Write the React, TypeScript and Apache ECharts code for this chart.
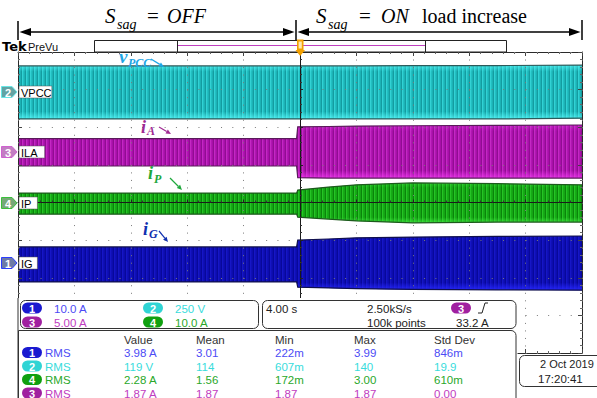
import React, { useEffect, useRef } from 'react';
import * as echarts from 'echarts';

// Horizontal position in divisions (trigger at 0), vertical in divisions (centre line at 0)
const TIME = [-5, -2.5, -0.06, -0.04, 0.5, 1, 2, 3.5, 5];

// Envelope (upper / lower) of each acquired trace
const VPCC_HI = [3.63, 3.63, 3.63, 3.63, 3.63, 3.63, 3.64, 3.64, 3.65];
const VPCC_LO = [2.22, 2.22, 2.22, 2.22, 2.22, 2.22, 2.22, 2.22, 2.24];
const ILA_HI = [1.7, 1.7, 1.7, 2.01, 2.02, 2.03, 2.04, 2.05, 2.06];
const ILA_LO = [0.97, 0.97, 0.97, 0.66, 0.65, 0.65, 0.65, 0.65, 0.65];
const IP_HI = [0.25, 0.25, 0.25, 0.33, 0.41, 0.47, 0.52, 0.5, 0.47];
const IP_LO = [-0.31, -0.31, -0.31, -0.39, -0.44, -0.49, -0.54, -0.52, -0.52];
const IG_HI = [-1.18, -1.18, -1.18, -1.0, -0.97, -0.94, -0.92, -0.9, -0.89];
const IG_LO = [-2.11, -2.11, -2.11, -2.25, -2.27, -2.29, -2.31, -2.32, -2.33];

// Channel readouts
const CHANNEL_NAMES = ['VPCC', 'ILA', 'IP', 'IG'];
const CHANNEL_NUMS = [2, 3, 4, 1];
const SCALE_CH = [1, 2, 3, 4];
const SCALE_TEXT = ['10.0 A', '250 V', '5.00 A', '10.0 A'];
const HORIZ_TEXT = ['4.00 s', '2.50kS/s', '100k points'];
const TRIGGER_LEVEL = '33.2 A';

// Measurement table
const MEAS_HEAD = ['Value', 'Mean', 'Min', 'Max', 'Std Dev'];
const MEAS_CH = [1, 2, 4, 3];
const MEAS_TYPE = ['RMS', 'RMS', 'RMS', 'RMS'];
const MEAS_VALUE = ['3.98 A', '119 V', '2.28 A', '1.87 A'];
const MEAS_MEAN = ['3.01', '114', '1.56', '1.87'];
const MEAS_MIN = ['222m', '607m', '172m', '1.87'];
const MEAS_MAX = ['3.99', '140', '3.00', '1.87'];
const MEAS_STD = ['846m', '19.9', '610m', '0.00'];
const DATE_TEXT = ['2 Oct 2019', '17:20:41'];

const SANS = 'Liberation Sans, Arial, sans-serif';
const SERIF = 'Liberation Serif, Times New Roman, serif';

const PILL: Record<number, string> = { 1: '#1a1ad0', 2: '#30d4d4', 3: '#a020a0', 4: '#10a010' };
const INK: Record<number, string> = { 1: '#4b4bf5', 2: '#38dcdc', 3: '#bf3cbf', 4: '#2aa82a' };
const MARK_FILL: Record<number, string> = { 1: '#6d7aa6', 2: '#63a3a3', 3: '#c27ec2', 4: '#78a878' };
const MARK_EDGE: Record<number, string> = { 1: '#2a3cff', 2: '#66e6e6', 3: '#d060d0', 4: '#3ac03a' };

const TRACE_STYLE = [
  { stripes: ['#1cb2b5', '#149ca0', '#32d2d4', '#22bfc2'], edge: '#2b5a5a', glow: 'rgba(90,250,250,0.75)', glowTop: 0.6 },
  { stripes: ['#a80ea8', '#900e92', '#c428c4', '#b018b2'], edge: '#5a1a5a', glow: 'rgba(245,60,245,0.7)', glowTop: 0.3 },
  { stripes: ['#14a414', '#0a840a', '#26c426', '#16ac16'], edge: '#1d5a1d', glow: 'rgba(70,235,70,0.7)', glowTop: 0.3 },
  { stripes: ['#0c0cae', '#08089a', '#1616c6', '#1010b6'], edge: '#10104e', glow: 'rgba(40,40,255,0.9)', glowTop: 0.1 },
];

const Z = 100;

function stripePattern(colors: string[]) {
  const c = document.createElement('canvas');
  c.width = colors.length;
  c.height = 1;
  const g = c.getContext('2d')!;
  colors.forEach((col, i) => {
    g.fillStyle = col;
    g.fillRect(i, 0, 1, 1);
  });
  return { image: c.toDataURL(), repeat: 'repeat', imageWidth: colors.length, imageHeight: 1 } as any;
}

function txt(x: number, y: number, text: string, size: number, fill: string, o: any = {}) {
  const align = o.align || 'left';
  const va = o.va || 'middle';
  return {
    type: 'text',
    x,
    y,
    z: Z + 2,
    silent: true,
    style: {
      text,
      fontSize: size,
      fontFamily: o.family || SANS,
      fontStyle: o.italic ? 'italic' : 'normal',
      fontWeight: o.bold ? 'bold' : 'normal',
      fill,
      align,
      textAlign: align,
      verticalAlign: va,
      textVerticalAlign: va,
    },
  };
}

function rect(x: number, y: number, w: number, h: number, style: any, r: any = 0, z = Z) {
  return { type: 'rect', z, silent: true, shape: { x, y, width: w, height: h, r }, style };
}

function line(x1: number, y1: number, x2: number, y2: number, stroke: string, lineWidth = 1, z = Z + 1) {
  return { type: 'line', z, silent: true, shape: { x1, y1, x2, y2 }, style: { stroke, lineWidth } };
}

function poly(points: number[][], fill: string, stroke?: string, z = Z + 1) {
  return { type: 'polygon', z, silent: true, shape: { points }, style: { fill, stroke: stroke || 'none', lineWidth: 1 } };
}

function pill(cx: number, cy: number, n: number) {
  return [
    rect(cx - 10, cy - 5.5, 20, 11, { fill: PILL[n] }, 5.5, Z + 1),
    txt(cx, cy + 0.5, String(n), 11, '#ffffff', { align: 'center', bold: true }),
  ];
}

function arrow(x1: number, y1: number, x2: number, y2: number, color: string) {
  const a = Math.atan2(y2 - y1, x2 - x1);
  const L = 5;
  const W = 2.3;
  const bx = x2 - L * Math.cos(a);
  const by = y2 - L * Math.sin(a);
  return [
    line(x1, y1, bx, by, color, 1.2),
    poly(
      [
        [x2, y2],
        [bx + W * Math.sin(a), by - W * Math.cos(a)],
        [bx - W * Math.sin(a), by + W * Math.cos(a)],
      ],
      color
    ),
  ];
}

// Italic symbol with an italic subscript; base = baseline of the symbol
function subLabel(x: number, base: number, main: string, sub: string, color: string, mainSize: number, subX: number, subDy: number) {
  return [
    txt(x, base + mainSize * 0.21, main, mainSize, color, { family: SERIF, italic: true, bold: true, va: 'bottom' }),
    txt(x + subX, base + subDy + 12 * 0.21, sub, 12, color, { family: SERIF, italic: true, bold: true, va: 'bottom' }),
  ];
}

function buildGraphics() {
  const g: any[] = [];

  // Header annotation
  const hy = 32;
  g.push(line(18, 21, 18, 40, '#000', 1.5));
  g.push(line(296, 20, 296, 40, '#000', 1.5));
  g.push(line(582, 20, 582, 40, '#000', 1.5));
  g.push(line(28, hy, 286, hy, '#000', 1.5));
  g.push(line(308, hy, 572, hy, '#000', 1.5));
  g.push(poly([[19.5, hy], [31, hy - 4], [31, hy + 4]], '#000'));
  g.push(poly([[294.5, hy], [283, hy - 4], [283, hy + 4]], '#000'));
  g.push(poly([[297.5, hy], [309, hy - 4], [309, hy + 4]], '#000'));
  g.push(poly([[580.5, hy], [569, hy - 4], [569, hy + 4]], '#000'));

  g.push(txt(105, 26, 'S', 21, '#000', { family: SERIF, italic: true, va: 'bottom' }));
  g.push(txt(117, 31, 'sag', 14, '#000', { family: SERIF, italic: true, va: 'bottom' }));
  g.push(txt(147, 26, '=', 21, '#000', { family: SERIF, va: 'bottom' }));
  g.push(txt(167, 26, 'OFF', 20, '#000', { family: SERIF, italic: true, va: 'bottom' }));

  g.push(txt(316, 26, 'S', 21, '#000', { family: SERIF, italic: true, va: 'bottom' }));
  g.push(txt(328, 31, 'sag', 14, '#000', { family: SERIF, italic: true, va: 'bottom' }));
  g.push(txt(359, 26, '=', 21, '#000', { family: SERIF, va: 'bottom' }));
  g.push(txt(381, 26, 'ON', 20, '#000', { family: SERIF, italic: true, va: 'bottom' }));
  g.push(txt(422, 26, 'load increase', 20, '#000', { family: SERIF, va: 'bottom' }));

  // Tek / record view bar
  g.push(txt(2, 46.5, 'Tek', 13, '#000', { bold: true, family: 'DejaVu Sans, sans-serif' }));
  g.push(txt(28, 46.5, 'PreVu', 11, '#111'));
  g.push(rect(94.5, 40.5, 412, 11.5, { fill: '#fff', stroke: '#222', lineWidth: 1 }));
  g.push(line(177.5, 40.5, 177.5, 52, '#222', 1));
  g.push(line(425.5, 40.5, 425.5, 52, '#222', 1));
  g.push(line(178, 45.5, 425, 45.5, '#c040c0', 1.2));
  g.push(poly([[297, 39.5], [303.5, 39.5], [303.5, 50], [305, 50], [300.2, 56], [295.5, 50], [297, 50]], '#f3a000'));
  g.push(rect(298.6, 41.5, 3.2, 7, { fill: '#ffe8b0' }, 0, Z + 2));

  // Trace callouts
  g.push(...subLabel(119, 62, 'v', 'PCC', '#1ea6e6', 19, 9, 4));
  g.push(...arrow(151, 59, 164, 67, '#1ea6e6'));
  g.push(...subLabel(141, 132, 'i', 'A', '#a02a92', 18, 6, 2));
  g.push(...arrow(159, 127, 171, 134, '#a02a92'));
  g.push(...subLabel(148, 178, 'i', 'P', '#1fa83c', 18, 6, 4));
  g.push(...arrow(170, 178, 182, 190, '#1fa83c'));
  g.push(...subLabel(143, 234, 'i', 'G', '#1030b0', 18, 6, 3));
  g.push(...arrow(159, 231, 168, 242, '#1030b0'));

  // Channel ground markers and names
  const markY = [92, 152, 203, 263];
  CHANNEL_NAMES.forEach((name, i) => {
    const y = markY[i];
    const n = CHANNEL_NUMS[i];
    g.push(poly([[1.5, y - 5.5], [12, y - 5.5], [17, y], [12, y + 5.5], [1.5, y + 5.5]], MARK_FILL[n], MARK_EDGE[n]));
    g.push(txt(8, y + 0.5, String(n), 11, '#ffffff', { align: 'center', bold: true }));
    const w = name.length * 7.2 + 4;
    g.push(rect(19, y - 6, w, 12, { fill: '#ffffff', stroke: '#555', lineWidth: 0.5 }, 0, Z + 1));
    g.push(txt(21, y + 0.5, name, 11, '#000'));
  });

  // Lower readout panel
  g.push(rect(0, 298, 517.5, 110, { fill: '#ffffff' }, 0, Z));
  g.push(line(18, 298, 18, 398, '#333', 1));
  g.push(rect(20.5, 300.5, 238, 28, { fill: '#fff', stroke: '#333', lineWidth: 1 }, 5, Z + 1));
  g.push(rect(262.5, 300.5, 253.5, 28, { fill: '#fff', stroke: '#333', lineWidth: 1 }, 5, Z + 1));
  g.push(rect(18.5, 330.5, 497.5, 80, { fill: '#fff', stroke: '#333', lineWidth: 1 }, [0, 5, 0, 0], Z + 1));

  const scalePos = [
    [32, 308],
    [153, 308],
    [32, 322],
    [153, 322],
  ];
  SCALE_CH.forEach((n, i) => {
    const [px, py] = scalePos[i];
    g.push(...pill(px, py, n));
    g.push(txt(px + 22, py + 0.5, SCALE_TEXT[i], 11.5, INK[n]));
  });

  g.push(txt(266, 308.5, HORIZ_TEXT[0], 11.5, '#222'));
  g.push(txt(367, 308.5, HORIZ_TEXT[1], 11.5, '#222'));
  g.push(txt(367, 322.5, HORIZ_TEXT[2], 11.5, '#222'));
  g.push(...pill(461, 308, 3));
  g.push(line(478, 313, 482, 313, '#222', 1));
  g.push(line(482, 313, 485, 303, '#222', 1));
  g.push(line(485, 303, 488, 303, '#222', 1));
  g.push(txt(456, 322.5, TRIGGER_LEVEL, 11.5, '#222'));

  const colX = [124, 196, 275, 354, 434];
  MEAS_HEAD.forEach((h, i) => g.push(txt(colX[i], 339.5, h, 11.5, '#333')));
  const rowY = [352.5, 366, 379.5, 393];
  MEAS_CH.forEach((n, r) => {
    const y = rowY[r];
    g.push(...pill(32, y, n));
    g.push(txt(45, y + 0.5, MEAS_TYPE[r], 11.5, INK[n]));
    const vals = [MEAS_VALUE[r], MEAS_MEAN[r], MEAS_MIN[r], MEAS_MAX[r], MEAS_STD[r]];
    vals.forEach((v, c) => g.push(txt(colX[c], y + 0.5, v, 11.5, INK[n])));
  });

  // Date box
  g.push(rect(519.5, 355.5, 90, 31, { fill: '#fff', stroke: '#333', lineWidth: 1 }, 5, Z + 1));
  g.push(txt(540, 363.5, DATE_TEXT[0], 11, '#222'));
  g.push(txt(538, 378.5, DATE_TEXT[1], 11.5, '#222'));

  return g;
}

const frameAxis = (dim: 'x' | 'y', position: string) => ({
  type: 'value',
  min: dim === 'x' ? -5 : -4,
  max: dim === 'x' ? 5 : 4,
  interval: 1,
  position,
  z: 5,
  axisLine: { show: true, onZero: false, lineStyle: { color: '#2a2a2a', width: 1 } },
  axisTick: { show: true, inside: true, length: 4, lineStyle: { color: '#444' } },
  minorTick: { show: true, splitNumber: 5, length: 2, lineStyle: { color: '#666' } },
  axisLabel: { show: false },
  splitLine: { show: false },
});

export default function App() {
  const ref = useRef<HTMLDivElement>(null);

  useEffect(() => {
    if (!ref.current) return;
    const chart = echarts.init(ref.current, undefined, { renderer: 'svg' });

    const traces = [
      { hi: VPCC_HI, lo: VPCC_LO },
      { hi: ILA_HI, lo: ILA_LO },
      { hi: IP_HI, lo: IP_LO },
      { hi: IG_HI, lo: IG_LO },
    ];
    const fills = TRACE_STYLE.map((s) => stripePattern(s.stripes));

    chart.setOption({
      animation: false,
      backgroundColor: '#ffffff',
      grid: { left: 18, right: 15, top: 52, bottom: 45, show: false },
      xAxis: [
        {
          type: 'value',
          min: -5,
          max: 5,
          interval: 1,
          position: 'bottom',
          z: 6,
          axisLine: { show: true, onZero: true, onZeroAxisIndex: 0, lineStyle: { color: '#1a1a1a', width: 1 } },
          axisTick: { show: true, inside: true, length: 3, lineStyle: { color: '#222' } },
          minorTick: { show: true, splitNumber: 5, length: 2, lineStyle: { color: '#333' } },
          axisLabel: { show: false },
          splitLine: { show: true, lineStyle: { color: '#7a7a7a', width: 1, type: [1, 6.525] } },
        },
        frameAxis('x', 'top'),
        frameAxis('x', 'bottom'),
      ],
      yAxis: [
        {
          type: 'value',
          min: -4,
          max: 4,
          interval: 1,
          position: 'left',
          z: 6,
          axisLine: { show: true, onZero: true, onZeroAxisIndex: 0, lineStyle: { color: '#1a1a1a', width: 1 } },
          axisTick: { show: true, inside: true, length: 3, lineStyle: { color: '#222' } },
          minorTick: { show: true, splitNumber: 5, length: 2, lineStyle: { color: '#333' } },
          axisLabel: { show: false },
          splitLine: { show: true, lineStyle: { color: '#7a7a7a', width: 1, type: [1, 10.28] } },
        },
        frameAxis('y', 'left'),
        frameAxis('y', 'right'),
      ],
      series: [
        {
          type: 'custom',
          xAxisIndex: 0,
          yAxisIndex: 0,
          z: 2,
          silent: true,
          data: traces.map((_, i) => [0, 0, i]),
          encode: { x: 0, y: 1 },
          renderItem: (params: any, api: any) => {
            const i = api.value(2);
            const tr = traces[i];
            const st = TRACE_STYLE[i];
            const top = TIME.map((t, k) => api.coord([t, tr.hi[k]]));
            const bot = TIME.map((t, k) => api.coord([t, tr.lo[k]]));
            const pts = top.concat(bot.slice().reverse());
            const clear = st.glow.replace(/[\d.]+\)$/, '0)');
            const topGlow = st.glow.replace(/[\d.]+\)$/, st.glowTop + ')');
            return {
              type: 'group',
              children: [
                { type: 'polygon', shape: { points: pts }, style: { fill: fills[i], stroke: 'none' } },
                {
                  type: 'polygon',
                  shape: { points: pts },
                  style: {
                    fill: new echarts.graphic.LinearGradient(0, 0, 0, 1, [
                      { offset: 0, color: topGlow },
                      { offset: 0.12, color: clear },
                      { offset: 0.86, color: clear },
                      { offset: 1, color: st.glow },
                    ]),
                    stroke: 'none',
                  },
                },
                { type: 'polyline', shape: { points: top }, style: { stroke: st.edge, lineWidth: 1.2, fill: 'none' } },
                { type: 'polyline', shape: { points: bot }, style: { stroke: st.edge, lineWidth: 1.2, fill: 'none' } },
              ],
            };
          },
        },
      ],
      graphic: { elements: buildGraphics() },
    });

    return () => chart.dispose();
  }, []);

  return (
    <div
      ref={ref}
      style={{ position: 'fixed', left: 0, top: 0, width: 597, height: 398, background: '#fff' }}
    />
  );
}
